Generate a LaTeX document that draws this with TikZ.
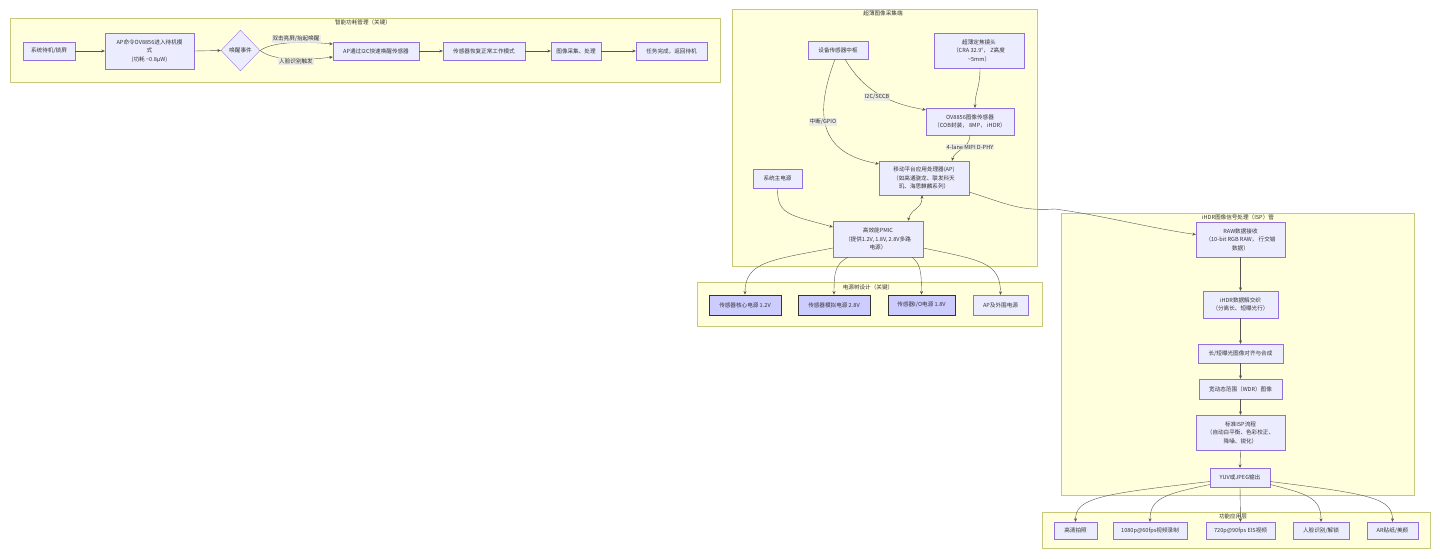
\documentclass[tikz,border=0pt]{standalone}
\usepackage{fontspec}
\setmainfont{Noto Sans CJK SC}
\usetikzlibrary{arrows.meta,shapes.geometric}
\definecolor{nodefill}{HTML}{ECECFF}
\definecolor{nodeline}{HTML}{9370DB}
\definecolor{clfill}{HTML}{FFFFDE}
\definecolor{clline}{HTML}{C8C87A}
\definecolor{edgecol}{HTML}{555555}
\definecolor{pwrfill}{HTML}{CCCCFF}
\definecolor{lblfill}{HTML}{E8E8E8}
\definecolor{txt}{HTML}{333333}
\begin{document}
\begin{tikzpicture}[x=1pt,y=-1pt,
  box/.style={draw=nodeline, fill=nodefill, line width=0.35pt, align=center, inner sep=1pt, text=txt, font=\fontsize{5.6}{8.5}\selectfont},
  pwr/.style={box, draw=black!80, fill=pwrfill, line width=0.9pt},
  dia/.style={box, shape=diamond, inner sep=0pt},
  cluster/.style={draw=clline, fill=clfill, line width=0.35pt},
  ctitle/.style={font=\fontsize{5.6}{7}\selectfont, text=txt, inner sep=0pt},
  conn/.style={draw=edgecol, line width=0.4pt, -{Stealth[length=3.5pt,width=3pt]}},
  biconn/.style={draw=edgecol, line width=0.4pt, {Stealth[length=3.5pt,width=3pt]}-{Stealth[length=3.5pt,width=3pt]}},
  elabel/.style={fill=lblfill, fill opacity=0.8, text opacity=1, inner sep=1pt, text=txt, font=\fontsize{5.6}{7}\selectfont}]
\useasboundingbox (0,0) rectangle (1440,558);
\fill[white] (0,0) rectangle (1440,558);

% ---------- clusters ----------
\draw[cluster] (10,18) rectangle (720,82);
\node[ctitle] (t1) at (363,22) {智能功耗管理（关键）};
\draw[cluster] (732,9) rectangle (1037,266);
\node[ctitle] (t2) at (883,13) {超薄图像采集端};
\draw[cluster] (697,282) rectangle (1042,326);
\node[ctitle] (t3) at (868,287) {电源树设计（关键）};
\draw[cluster] (1061,213) rectangle (1414,495);
\node[ctitle] (t4) at (1238,217) {iHDR图像信号处理（ISP）管};
\draw[cluster] (1042,512) rectangle (1430,548);
\node[ctitle] (t5) at (1233,516) {功能应用层};

% ---------- cluster 1 ----------
\node[box, minimum width=52pt, minimum height=18pt] (s1) at (49,51) {系统待机/锁屏};
\node[box, minimum width=89pt, minimum height=36pt] (s2) at (149.5,51) {AP命令OV8856进入待机模\\式\\(功耗 \textasciitilde0.8μW)};
\node[dia, minimum width=39pt, minimum height=41pt] (d) at (240.5,50.5) {唤醒事件};
\node[box, minimum width=86pt, minimum height=18pt] (s3) at (376,51) {AP通过I2C快速唤醒传感器};
\node[box, minimum width=82pt, minimum height=18pt] (s4) at (484,51) {传感器恢复正常工作模式};
\node[box, minimum width=50pt, minimum height=18pt] (s5) at (576,51) {图像采集、处理};
\node[box, minimum width=71pt, minimum height=18pt] (s6) at (671.5,51) {任务完成，返回待机};

\draw[conn] (s1.east) -- (s2.west);
\draw[conn] (s2.east) -- (d.west);
\draw[conn] (d.east) .. controls (272,42) and (300,41) .. ([yshift=7pt]s3.west);
\draw[conn] (d.east) .. controls (272,60) and (300,61) .. ([yshift=-6pt]s3.west);
\node[elabel] (l1) at (296,39) {双击亮屏/抬起唤醒};
\node[elabel] (l2) at (296,61) {人脸识别触发};
\draw[conn] (s3.east) -- (s4.west);
\draw[conn] (s4.east) -- (s5.west);
\draw[conn] (s5.east) -- (s6.west);

% ---------- cluster 2 ----------
\node[box, minimum width=60pt, minimum height=18pt] (c1) at (838,50) {设备传感器中枢};
\node[box, minimum width=90pt, minimum height=35pt] (c2) at (979,50.5) {超薄定焦镜头\\（CRA 32.9°， Z高度\\\textasciitilde5mm）};
\node[box, minimum width=88pt, minimum height=27pt] (c3) at (970,121.5) {OV8856图像传感器\\（COB封装， 8MP， iHDR）};
\node[box, minimum width=90pt, minimum height=34pt] (c4) at (924,178) {移动平台应用处理器(AP)\\（如高通骁龙、联发科天\\玑、海思麒麟系列）};
\node[box, minimum width=49pt, minimum height=19pt] (c5) at (777.5,178.5) {系统主电源};
\node[box, minimum width=90pt, minimum height=36pt] (c6) at (878,239) {高效能PMIC\\（提供1.2V, 1.8V, 2.8V多路\\电源）};

\draw[conn] ([xshift=7pt]c1.south) .. controls (862,88) and (885,103) .. ([yshift=-2pt]c3.north west);
\node[elabel] (l3) at (877,97) {I2C/SCCB};
\draw[conn] ([xshift=-3pt]c1.south) .. controls (818,105) and (812,152) .. ([yshift=-3pt]c4.north west);
\node[elabel] (l4) at (823,122) {中断/GPIO};
\draw[conn] ([xshift=1pt]c2.south) .. controls (980,88) and (975,92) .. ([xshift=5pt]c3.north);
\draw[conn] (c3.south) .. controls (970,148) and (955,150) .. ([xshift=28pt]c4.north);
\node[elabel] (l5) at (970,147) {4-lane MIPI D-PHY};
\draw[conn] (c5.south) .. controls (777,215) and (790,215) .. ([yshift=12pt]c6.west);
\draw[biconn] ([xshift=-2pt]c4.south) .. controls (922,210) and (912,207) .. ([xshift=30pt]c6.north);

% ---------- cluster 3 ----------
\node[pwr, minimum width=72pt, minimum height=20pt] (p1) at (745,305) {传感器核心电源 1.2V};
\node[pwr, minimum width=72pt, minimum height=20pt] (p2) at (834,305) {传感器模拟电源 2.8V};
\node[pwr, minimum width=67pt, minimum height=20pt] (p3) at (921.5,305) {传感器I/O电源 1.8V};
\node[box, minimum width=55pt, minimum height=20pt] (p4) at (1000.5,305) {AP及外围电源};

\draw[conn] ([yshift=-9pt]c6.west) .. controls (770,260) and (745,262) .. (p1.north);
\draw[conn] ([xshift=-30pt]c6.south) .. controls (836,264) and (834,270) .. (p2.north);
\draw[conn] ([xshift=34pt]c6.south) .. controls (920,264) and (921.5,270) .. (p3.north);
\draw[conn] ([yshift=-9pt]c6.east) .. controls (980,260) and (1000.5,262) .. (p4.north);

% ---------- cluster 4 ----------
\node[box, minimum width=89pt, minimum height=35pt] (i1) at (1240.5,239.5) {RAW数据接收\\（10-bit RGB RAW， 行交错\\数据）};
\node[box, minimum width=75pt, minimum height=27pt] (i2) at (1240.5,304.5) {iHDR数据解交织\\（分离长、短曝光行）};
\node[box, minimum width=85pt, minimum height=19pt] (i3) at (1240.5,353.5) {长/短曝光图像对齐与合成};
\node[box, minimum width=83pt, minimum height=20pt] (i4) at (1240.5,389) {宽动态范围（WDR）图像};
\node[box, minimum width=89pt, minimum height=35pt] (i5) at (1240.5,432.5) {标准ISP流程\\（自动白平衡、色彩校正、\\降噪、锐化）};
\node[box, minimum width=60pt, minimum height=19pt] (i6) at (1240,477.5) {YUV或JPEG输出};

\draw[conn] ([yshift=-14pt]c4.east) .. controls (1010,205) and (1020,211) .. (1055,209) .. controls (1100,215) and (1150,228) .. ([yshift=5pt]i1.west);
\draw[conn] (i1.south) -- (i2.north);
\draw[conn] (i2.south) -- (i3.north);
\draw[conn] (i3.south) -- (i4.north);
\draw[conn] (i4.south) -- (i5.north);
\draw[conn] (i5.south) -- (i6.north);

% ---------- cluster 5 ----------
\node[box, minimum width=43pt, minimum height=17pt] (a1) at (1075.5,530.5) {高清拍照};
\node[box, minimum width=74pt, minimum height=17pt] (a2) at (1150,530.5) {1080p@60fps视频录制};
\node[box, minimum width=69pt, minimum height=17pt] (a3) at (1240.5,530.5) {720p@90fps EIS视频};
\node[box, minimum width=56pt, minimum height=17pt] (a4) at (1321,530.5) {人脸识别/解锁};
\node[box, minimum width=51pt, minimum height=17pt] (a5) at (1392.5,530.5) {AR贴纸/美颜};

\draw[conn] ([yshift=-4pt]i6.west) .. controls (1100,494) and (1075.5,498) .. (a1.north);
\draw[conn] ([yshift=-7pt]i6.west) .. controls (1165,494) and (1150,498) .. (a2.north);
\draw[conn] (i6.south) -- (a3.north);
\draw[conn] ([yshift=-7pt]i6.east) .. controls (1308,494) and (1321,498) .. (a4.north);
\draw[conn] ([yshift=-4pt]i6.east) .. controls (1370,494) and (1392.5,498) .. (a5.north);
\end{tikzpicture}
\end{document}
